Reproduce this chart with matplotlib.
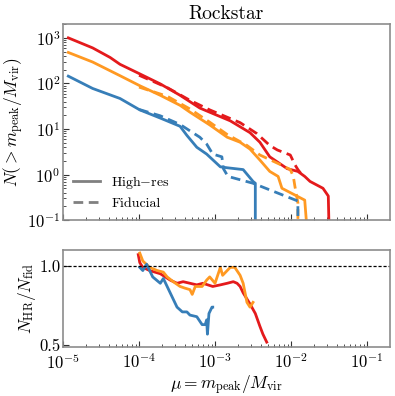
import numpy as np
import matplotlib
matplotlib.use("Agg")
import matplotlib.pyplot as plt
from matplotlib.lines import Line2D

plt.rcParams["font.family"] = "serif"
plt.rcParams["font.serif"] = ["cmr10", "DejaVu Serif"]
plt.rcParams["mathtext.fontset"] = "cm"
plt.rcParams["axes.formatter.use_mathtext"] = True
plt.rcParams["axes.unicode_minus"] = False

# cumulative counts as log10(mu), log10(N)
red_hr_logmu = [-4.93, -4.61, -4.38, -4.25, -3.99, -3.72, -3.46, -3.20, -2.80, -2.54, -2.41,
                -2.28, -2.05, -1.91, -1.82, -1.75, -1.58, -1.51, -1.50]
red_hr_logn = [3.00, 2.78, 2.57, 2.42, 2.21, 1.99, 1.74, 1.46, 1.18, 0.92, 0.71,
               0.39, 0.13, 0.07, -0.04, -0.15, -0.30, -0.47, -1.20]
red_fid_logmu = [-4.00, -3.63, -3.33, -3.07, -2.67, -2.45, -2.28, -2.18, -2.01, -1.95, -1.91, -1.84]
red_fid_logn = [2.18, 1.91, 1.63, 1.42, 1.14, 0.90, 0.64, 0.54, 0.43, 0.22, 0.11, -0.04]

orange_hr_logmu = [-4.93, -4.61, -4.25, -3.99, -3.72, -3.46, -3.33, -3.07, -2.84, -2.67,
                   -2.54, -2.41, -2.28, -2.17, -2.12, -1.82, -1.79]
orange_hr_logn = [2.68, 2.47, 2.17, 1.95, 1.74, 1.52, 1.37, 1.09, 0.82, 0.71,
                  0.56, 0.32, 0.07, -0.04, -0.30, -0.56, -1.20]
orange_fid_logmu = [-4.00, -3.63, -3.33, -3.07, -2.84, -2.58, -2.41, -2.14, -2.01, -1.97, -1.95, -1.91, -1.91]
orange_fid_logn = [1.92, 1.72, 1.44, 1.15, 0.88, 0.64, 0.43, 0.22, 0.11, -0.04, -0.25, -0.62, -1.20]

blue_hr_logmu = [-4.93, -4.61, -4.25, -3.99, -3.72, -3.46, -3.37, -3.24, -3.11, -2.93,
                 -2.84, -2.63, -2.50, -2.47, -2.47]
blue_hr_logn = [2.16, 1.89, 1.67, 1.42, 1.24, 1.06, 0.86, 0.60, 0.45, 0.17,
                0.15, 0.11, -0.15, -0.19, -1.20]
blue_fid_logmu = [-4.00, -3.72, -3.46, -3.20, -3.11, -3.03, -2.91, -2.89, -2.83, -2.50, -1.91, -1.91]
blue_fid_logn = [1.43, 1.29, 1.10, 0.82, 0.67, 0.45, 0.39, 0.13, -0.04, -0.19, -0.58, -1.20]

# ratio N_HR / N_fid
red_ratio_logmu = [-4.01, -3.99, -3.95, -3.86, -3.72, -3.59, -3.50, -3.42, -3.33, -3.24,
                   -3.16, -3.03, -2.93, -2.84, -2.76, -2.71, -2.67, -2.63, -2.54, -2.47,
                   -2.41, -2.37, -2.32]
red_ratio = [1.07, 1.02, 0.99, 0.97, 0.95, 0.91, 0.89, 0.90, 0.89, 0.88,
             0.89, 0.87, 0.88, 0.89, 0.90, 0.89, 0.87, 0.83, 0.76, 0.70,
             0.62, 0.57, 0.52]
orange_ratio_logmu = [-3.99, -3.95, -3.86, -3.76, -3.68, -3.63, -3.55, -3.46, -3.40, -3.33,
                      -3.30, -3.26, -3.17, -3.11, -3.07, -3.00, -2.93, -2.90, -2.80, -2.74,
                      -2.67, -2.63, -2.58, -2.54, -2.50]
orange_ratio = [1.08, 1.03, 0.99, 0.97, 0.96, 0.93, 0.90, 0.87, 0.86, 0.85,
                0.82, 0.87, 0.87, 0.91, 0.93, 0.89, 0.99, 0.94, 0.99, 0.99,
                0.94, 0.89, 0.77, 0.74, 0.77]
blue_ratio_logmu = [-3.99, -3.95, -3.90, -3.82, -3.72, -3.68, -3.59, -3.50, -3.43, -3.37,
                    -3.33, -3.24, -3.17, -3.13, -3.11, -3.10, -3.08, -3.04, -3.03]
blue_ratio = [0.99, 0.97, 1.01, 0.93, 0.89, 0.92, 0.83, 0.74, 0.71, 0.71,
              0.69, 0.68, 0.63, 0.63, 0.66, 0.57, 0.70, 0.74, 0.74]

colors = {"red": "#e41a1c", "orange": "#ff9922", "blue": "#377eb8"}
series = [
    ("red", red_hr_logmu, red_hr_logn, red_fid_logmu, red_fid_logn, red_ratio_logmu, red_ratio),
    ("orange", orange_hr_logmu, orange_hr_logn, orange_fid_logmu, orange_fid_logn,
     orange_ratio_logmu, orange_ratio),
    ("blue", blue_hr_logmu, blue_hr_logn, blue_fid_logmu, blue_fid_logn, blue_ratio_logmu, blue_ratio),
]

fig = plt.figure(figsize=(3.95, 3.96), dpi=100)
ax = fig.add_axes([0.1595, 0.444, 0.8275, 0.495])
axr = fig.add_axes([0.1595, 0.124, 0.8275, 0.245])

for name, hx, hy, fx, fy, rx, ry in series:
    c = colors[name]
    ax.plot(10 ** np.array(hx), 10 ** np.array(hy), color=c, lw=2)
    ax.plot(10 ** np.array(fx), 10 ** np.array(fy), color=c, lw=2, ls=(0, (3.5, 2)))
    axr.plot(10 ** np.array(rx), ry, color=c, lw=2)

axr.axhline(1.0, color="k", lw=0.9, ls=(0, (2.5, 1.5)))

for a in (ax, axr):
    a.set_xscale("log")
    a.set_xlim(1e-5, 10 ** -0.7)
    a.tick_params(which="both", direction="in", labelsize=12, color="0.2", pad=2)
    a.tick_params(which="major", length=4)
    a.tick_params(which="minor", length=2)
    for s in a.spines.values():
        s.set_color("0.55")
        s.set_linewidth(1.2)
axr.tick_params(axis="x", which="both", pad=4)

ax.set_yscale("log")
ax.set_ylim(0.1, 2000)
ax.tick_params(axis="x", which="both", labelbottom=False)
ax.set_title("Rockstar", fontsize=14, pad=4)
ax.set_ylabel(r"$N(>m_{\rm peak}/M_{\rm vir})$", fontsize=12.5, labelpad=1)

handles = [Line2D([], [], color="0.5", lw=2),
           Line2D([], [], color="0.5", lw=2, ls=(0, (3.5, 2)))]
ax.legend(handles, [r"High$-$res", "Fiducial"], loc="lower left", frameon=False,
          fontsize=10, handlelength=1.95, borderaxespad=0.32, labelspacing=0.45)

axr.set_ylim(0.49, 1.1)
axr.set_yticks([0.5, 1.0])
axr.set_yticklabels(["0.5", "1.0"])
axr.set_xticks([1e-5, 1e-4, 1e-3, 1e-2, 1e-1])
axr.set_ylabel(r"$N_{\rm HR}/N_{\rm fid}$", fontsize=12.5, labelpad=1)
axr.set_xlabel(r"$\mu = m_{\rm peak}/M_{\rm vir}$", fontsize=12.5, labelpad=0.5)

fig.savefig("out.png", dpi=100)
